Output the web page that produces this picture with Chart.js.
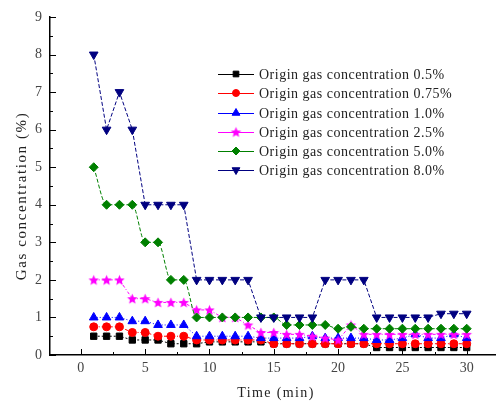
<!DOCTYPE html>
<html>
<head>
<meta charset="utf-8">
<script src="https://cdn.jsdelivr.net/npm/chart.js@4.4.1/dist/chart.umd.min.js"></script>
<style>
  body { margin: 0; background: #fff; }
  #wrap { width: 501px; height: 407px; }
</style>
</head>
<body>
<div id="wrap"><canvas id="gasChart" width="501" height="407"></canvas></div>
<script>
// Time axis (min)
const timeMin = [1, 2, 3, 4, 5, 6, 7, 8, 9, 10, 11, 12, 13, 14, 15, 16, 17, 18, 19, 20, 21, 22, 23, 24, 25, 26, 27, 28, 29, 30];

// Gas concentration (%) for each origin concentration
const conc05 = [0.5, 0.5, 0.5, 0.4, 0.4, 0.4, 0.3, 0.3, 0.3, 0.35, 0.35, 0.35, 0.35, 0.35, 0.3, 0.3, 0.3, 0.3, 0.3, 0.3, 0.3, 0.3, 0.2, 0.2, 0.2, 0.2, 0.2, 0.2, 0.2, 0.2];
const conc075 = [0.75, 0.75, 0.75, 0.6, 0.6, 0.5, 0.5, 0.5, 0.4, 0.4, 0.4, 0.4, 0.4, 0.4, 0.3, 0.3, 0.3, 0.3, 0.3, 0.3, 0.3, 0.3, 0.3, 0.3, 0.3, 0.3, 0.3, 0.3, 0.3, 0.3];
const conc10 = [1, 1, 1, 0.9, 0.9, 0.8, 0.8, 0.8, 0.5, 0.5, 0.5, 0.5, 0.5, 0.45, 0.45, 0.45, 0.45, 0.5, 0.45, 0.45, 0.45, 0.45, 0.4, 0.4, 0.45, 0.55, 0.45, 0.45, 0.55, 0.45];
const conc25 = [2, 2, 2, 1.5, 1.5, 1.4, 1.4, 1.4, 1.2, 1.2, 1.0, 1.0, 0.8, 0.6, 0.6, 0.55, 0.55, 0.5, 0.45, 0.4, 0.8, 0.55, 0.55, 0.55, 0.55, 0.55, 0.55, 0.55, 0.55, 0.55];
const conc50 = [5, 4, 4, 4, 3, 3, 2, 2, 1, 1, 1, 1, 1, 1, 1, 0.8, 0.8, 0.8, 0.8, 0.7, 0.75, 0.7, 0.7, 0.7, 0.7, 0.7, 0.7, 0.7, 0.7, 0.7];
const conc80 = [8, 6, 7, 6, 4, 4, 4, 4, 2, 2, 2, 2, 2, 1, 1, 1, 1, 1, 2, 2, 2, 2, 1, 1, 1, 1, 1, 1.1, 1.1, 1.1];

const seriesLabels = [
    'Origin gas concentration 0.5%',
    'Origin gas concentration 0.75%',
    'Origin gas concentration 1.0%',
    'Origin gas concentration 2.5%',
    'Origin gas concentration 5.0%',
    'Origin gas concentration 8.0%'
];

const xTitle = 'Time (min)';
const yTitle = 'Gas concentration (%)';

const FONT = '"Liberation Serif", "Times New Roman", serif';

// filled five point star marker
function makeStar(color, r) {
    const c = document.createElement('canvas');
    const s = Math.ceil(r * 2 + 2);
    c.width = s; c.height = s;
    const g = c.getContext('2d');
    g.fillStyle = color;
    g.beginPath();
    for (let i = 0; i < 10; i++) {
        const rad = i % 2 === 0 ? r : r * 0.45;
        const a = -Math.PI / 2 + i * Math.PI / 5;
        const px = s / 2 + rad * Math.cos(a);
        const py = s / 2 + rad * Math.sin(a) + 0.5;
        if (i === 0) g.moveTo(px, py); else g.lineTo(px, py);
    }
    g.closePath();
    g.fill();
    return c;
}
const starImg = makeStar('#ff00ff', 5.5);

function toPoints(values) {
    return values.map((v, i) => ({ x: timeMin[i], y: v }));
}

function series(label, values, color, style, dash, extra) {
    return Object.assign({
        label: label,
        data: toPoints(values),
        borderColor: color,
        backgroundColor: color,
        pointBackgroundColor: color,
        pointBorderColor: color,
        borderWidth: 1,
        borderDash: dash,
        pointStyle: style,
        pointRadius: 4,
        pointBorderWidth: 1,
        tension: 0,
        fill: false
    }, extra || {});
}

const datasets = [
    series(seriesLabels[0], conc05, '#000000', 'rect', [2, 2], { pointRadius: 4.5, order: 5 }),
    series(seriesLabels[1], conc075, '#ff0000', 'circle', [3, 2, 1, 2], { order: 4 }),
    series(seriesLabels[2], conc10, '#0000ff', 'triangle', [1, 2], { pointRadius: 5, order: 3 }),
    series(seriesLabels[3], conc25, '#ff00ff', starImg, [3, 2, 1, 2], { order: 2 }),
    series(seriesLabels[4], conc50, '#008000', 'rectRot', [4, 2], { pointRadius: 4.5, cubicInterpolationMode: 'monotone', order: 1 }),
    series(seriesLabels[5], conc80, '#000080', 'triangle', [4, 2], { pointRadius: 5, pointRotation: 180, order: 0 })
];

// inward ticks (major + minor), axis titles and the legend
const decorPlugin = {
    id: 'decor',
    afterDraw(chart) {
        const ctx = chart.ctx;
        const xs = chart.scales.x, ys = chart.scales.y;
        const area = chart.chartArea;
        ctx.save();
        ctx.strokeStyle = '#000';
        ctx.lineWidth = 1;
        ctx.beginPath();
        for (let v = -2.5; v <= 32.5; v += 2.5) {
            if (v < xs.min || v > xs.max) continue;
            const px = Math.round(xs.getPixelForValue(v)) + 0.5;
            const len = (v % 5 === 0) ? 6 : 3;
            ctx.moveTo(px, area.bottom);
            ctx.lineTo(px, area.bottom - len);
        }
        for (let v = 0; v <= 9; v += 0.5) {
            const py = Math.round(ys.getPixelForValue(v)) + 0.5;
            const len = (v % 1 === 0) ? 6 : 3;
            ctx.moveTo(area.left, py);
            ctx.lineTo(area.left + len, py);
        }
        ctx.stroke();

        ctx.textBaseline = 'middle';
        ctx.textAlign = 'center';
        ctx.fillStyle = '#222';

        // axis titles
        ctx.font = '14px ' + FONT;
        ctx.letterSpacing = '1.4px';
        ctx.fillText(xTitle, 276, 393);
        ctx.save();
        ctx.font = '15px ' + FONT;
        ctx.letterSpacing = '1.6px';
        ctx.translate(22, 196);
        ctx.rotate(-Math.PI / 2);
        ctx.fillText(yTitle, 0, 0);
        ctx.restore();

        // legend
        const lx0 = 218, lx1 = 254, tx = 259;
        const rows = [74, 93, 113, 132, 151, 170];
        ctx.font = '14px ' + FONT;
        ctx.letterSpacing = '0.5px';
        ctx.textAlign = 'left';
        chart.data.datasets.forEach((ds, i) => {
            const y = rows[i];
            ctx.strokeStyle = ds.borderColor;
            ctx.setLineDash([]);
            ctx.beginPath();
            ctx.moveTo(lx0, y + 0.5);
            ctx.lineTo(lx1, y + 0.5);
            ctx.stroke();
            const cx = (lx0 + lx1) / 2;
            ctx.fillStyle = ds.pointBackgroundColor;
            ctx.strokeStyle = ds.pointBorderColor;
            Chart.helpers.drawPoint(ctx, {
                pointStyle: ds.pointStyle,
                radius: ds.pointRadius - 0.5,
                rotation: ds.pointRotation || 0,
                borderWidth: 1
            }, cx, y);
            ctx.fillStyle = '#222';
            ctx.fillText(ds.label, tx, y + 1);
        });
        ctx.restore();
    }
};

const ctx = document.getElementById('gasChart').getContext('2d');
new Chart(ctx, {
    type: 'line',
    data: { datasets: datasets },
    options: {
        responsive: false,
        animation: false,
        layout: { padding: { top: 17, right: 1, left: 0, bottom: 0 } },
        scales: {
            x: {
                type: 'linear',
                min: -2.4,
                max: 32.2,
                afterBuildTicks(scale) {
                    scale.ticks = [0, 5, 10, 15, 20, 25, 30].map(v => ({ value: v }));
                },
                afterFit(scale) { scale.height = 52; },
                border: { display: true, color: '#000', width: 1.5 },
                grid: { display: false, drawTicks: false },
                ticks: {
                    color: '#444',
                    font: { family: FONT, size: 14 },
                    padding: 5,
                    maxRotation: 0
                }
            },
            y: {
                min: 0,
                max: 9,
                afterFit(scale) { scale.width = 50; },
                border: { display: true, color: '#000', width: 1.5 },
                grid: { display: false, drawTicks: false },
                ticks: {
                    stepSize: 1,
                    color: '#444',
                    font: { family: FONT, size: 14 },
                    padding: 8
                }
            }
        },
        plugins: {
            legend: { display: false },
            tooltip: { enabled: false }
        }
    },
    plugins: [decorPlugin]
});
</script>
</body>
</html>
